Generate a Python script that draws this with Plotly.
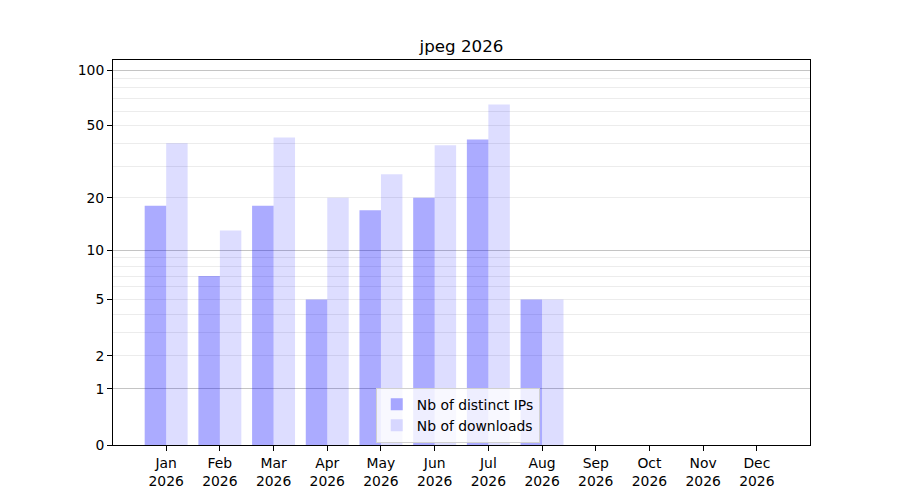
import numpy as np
import plotly.graph_objects as go

months = ["Jan", "Feb", "Mar", "Apr", "May", "Jun", "Jul", "Aug", "Sep", "Oct", "Nov", "Dec"]
year = "2026"
distinct_ips = [18, 7, 18, 5, 17, 20, 42, 5, 0, 0, 0, 0]
downloads = [40, 13, 43, 20, 27, 39, 65, 5, 0, 0, 0, 0]

# y axis is log10(1 + n): shown on a log axis with bars starting at 1
y_ticks = [0, 1, 2, 5, 10, 20, 50, 100]
y_minor = [2, 3, 4, 5, 6, 7, 8, 9, 20, 30, 40, 50, 60, 70, 80, 90]
y_major_grid = [1, 10, 100]

labels = [m + "<br>" + year for m in months]
font = dict(family="DejaVu Sans", size=13.9, color="black")

fig = go.Figure()
fig.add_trace(go.Bar(x=labels, y=distinct_ips, base=1, name="Nb of distinct IPs",
                     marker=dict(color="rgba(0,0,255,0.33)", line_width=0)))
fig.add_trace(go.Bar(x=labels, y=downloads, base=1, name="Nb of downloads",
                     marker=dict(color="rgba(0,0,255,0.135)", line_width=0)))
# empty trace so the overlaid axis carrying the darker grid lines gets drawn
fig.add_trace(go.Scatter(x=[], y=[], yaxis="y2", showlegend=False, hoverinfo="skip"))

shift = lambda v: [t + 1 for t in v]
y_range = [0, 2.058]

# page body has an 8px margin, so the margins are set 8px smaller on left/top
fig.update_layout(
    width=900, height=500,
    margin=dict(l=105, r=98, t=52, b=63),
    paper_bgcolor="white", plot_bgcolor="white",
    font=font,
    barmode="group", bargap=0.2, bargroupgap=0,
    title=dict(text="jpeg 2026", x=0.5, xref="paper", y=1 - 38 / 500, yref="container",
               yanchor="middle", font=dict(family="DejaVu Sans", size=16.7, color="black")),
    legend=dict(x=0.377, y=0.006, xanchor="left", yanchor="bottom",
                bgcolor="rgba(255,255,255,0.8)", bordercolor="#d0d0d0", borderwidth=1,
                font=font, tracegroupgap=0),
    xaxis=dict(range=[-0.99, 11.99], showline=True, mirror=True, linecolor="black",
               linewidth=1, ticks="outside", ticklen=5, tickcolor="black", showgrid=False),
    yaxis=dict(type="log", range=y_range, tickmode="array", tickvals=shift(y_ticks),
               ticktext=[str(t) for t in y_ticks], showgrid=False, zeroline=False,
               showline=True, mirror=True, linecolor="black", linewidth=1,
               ticks="outside", ticklen=5, tickcolor="black",
               minor=dict(tickmode="array", tickvals=shift(y_minor), showgrid=True,
                          gridcolor="#ececec", gridwidth=1, ticks="")),
    yaxis2=dict(type="log", range=y_range, overlaying="y", tickmode="array",
                tickvals=shift(y_major_grid), showticklabels=False, ticks="",
                showgrid=True, gridcolor="#c4c4c4", gridwidth=1, zeroline=False,
                showline=False),
)

fig.write_html("out.html")
